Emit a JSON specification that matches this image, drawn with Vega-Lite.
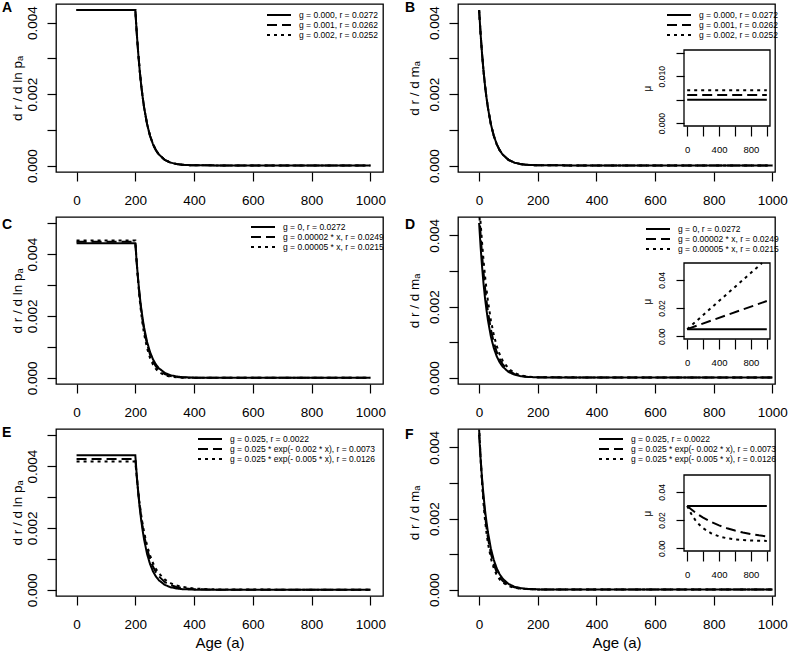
{
 "$schema": "https://vega.github.io/schema/vega-lite/v6.json",
 "autosize": {"type": "pad"},
 "padding": {"left": 1, "top": 0, "right": 0, "bottom": 0},
 "background": "white",
 "columns": 2,
 "spacing": {"row": 45, "column": 75},
 "bounds": "flush",
 "resolve": {"scale": {"strokeDash": "independent", "x": "independent", "y": "independent"}, "legend": {"strokeDash": "independent"}},
 "config": {
  "font": "Liberation Sans",
  "view": {"stroke": "black", "strokeWidth": 1.3},
  "axis": {"grid": false, "domain": false, "tickColor": "black", "tickWidth": 1.2, "labelColor": "black", "titleColor": "black", "labelFont": "Liberation Sans", "titleFont": "Liberation Sans", "titleFontWeight": "normal", "labelOverlap": false, "labelFlush": false},
  "legend": {"labelFont": "Liberation Sans", "labelFontSize": 8.5, "labelColor": "black", "padding": 0, "rowPadding": 0, "symbolType": "M-3,0L3,0", "symbolSize": 64, "symbolStrokeWidth": 2, "symbolStrokeColor": "black", "labelOffset": 15, "orient": "none", "labelLimit": 400},
  "title": {"font": "Liberation Sans", "fontSize": 14, "fontWeight": "bold", "color": "black", "anchor": "start", "frame": "group", "baseline": "alphabetic"}
 },
 "datasets": {
  "labAB": [{"key": "s1", "label": "g = 0.000, r = 0.0272"}, {"key": "s2", "label": "g = 0.001, r = 0.0262"}, {"key": "s3", "label": "g = 0.002, r = 0.0252"}],
  "labCD": [{"key": "s1", "label": "g = 0, r = 0.0272"}, {"key": "s2", "label": "g = 0.00002 * x, r = 0.0249"}, {"key": "s3", "label": "g = 0.00005 * x, r = 0.0215"}],
  "labEF": [{"key": "s1", "label": "g = 0.025, r = 0.0022"}, {"key": "s2", "label": "g = 0.025 * exp(- 0.002 * x), r = 0.0073"}, {"key": "s3", "label": "g = 0.025 * exp(- 0.005 * x), r = 0.0126"}],
  "A": [
   {"a": 0, "s1": 0.00435, "s2": 0.00435, "s3": 0.00435},
   {"a": 200, "s1": 0.00435, "s2": 0.00435, "s3": 0.00435},
   {"a": 205, "s1": 0.00369, "s2": 0.00369, "s3": 0.00369},
   {"a": 210, "s1": 0.00313, "s2": 0.00313, "s3": 0.00313},
   {"a": 215, "s1": 0.00265, "s2": 0.00265, "s3": 0.00265},
   {"a": 220, "s1": 0.00225, "s2": 0.00225, "s3": 0.00225},
   {"a": 225, "s1": 0.00191, "s2": 0.00191, "s3": 0.00191},
   {"a": 230, "s1": 0.00162, "s2": 0.00162, "s3": 0.00162},
   {"a": 240, "s1": 0.00116, "s2": 0.00116, "s3": 0.00116},
   {"a": 250, "s1": 0.000835, "s2": 0.000835, "s3": 0.000835},
   {"a": 260, "s1": 0.0006, "s2": 0.0006, "s3": 0.0006},
   {"a": 270, "s1": 0.000431, "s2": 0.000431, "s3": 0.000431},
   {"a": 280, "s1": 0.000311, "s2": 0.000311, "s3": 0.000311},
   {"a": 300, "s1": 0.000161, "s2": 0.000161, "s3": 0.000161},
   {"a": 320, "s1": 0.000083, "s2": 0.000083, "s3": 0.000083},
   {"a": 340, "s1": 0.000043, "s2": 0.000043, "s3": 0.000043},
   {"a": 360, "s1": 0.000022, "s2": 0.000022, "s3": 0.000022},
   {"a": 400, "s1": 0.000006, "s2": 0.000006, "s3": 0.000006},
   {"a": 1000, "s1": 0, "s2": 0, "s3": 0}
  ],
  "B": [
   {"a": 0, "s1": 0.00435, "s2": 0.00435, "s3": 0.00435},
   {"a": 5, "s1": 0.00369, "s2": 0.00369, "s3": 0.00369},
   {"a": 10, "s1": 0.00313, "s2": 0.00313, "s3": 0.00313},
   {"a": 15, "s1": 0.00265, "s2": 0.00265, "s3": 0.00265},
   {"a": 20, "s1": 0.00225, "s2": 0.00225, "s3": 0.00225},
   {"a": 25, "s1": 0.00191, "s2": 0.00191, "s3": 0.00191},
   {"a": 30, "s1": 0.00162, "s2": 0.00162, "s3": 0.00162},
   {"a": 40, "s1": 0.00116, "s2": 0.00116, "s3": 0.00116},
   {"a": 50, "s1": 0.000835, "s2": 0.000835, "s3": 0.000835},
   {"a": 60, "s1": 0.0006, "s2": 0.0006, "s3": 0.0006},
   {"a": 70, "s1": 0.000431, "s2": 0.000431, "s3": 0.000431},
   {"a": 80, "s1": 0.000311, "s2": 0.000311, "s3": 0.000311},
   {"a": 100, "s1": 0.000161, "s2": 0.000161, "s3": 0.000161},
   {"a": 120, "s1": 0.000083, "s2": 0.000083, "s3": 0.000083},
   {"a": 140, "s1": 0.000043, "s2": 0.000043, "s3": 0.000043},
   {"a": 160, "s1": 0.000022, "s2": 0.000022, "s3": 0.000022},
   {"a": 200, "s1": 0.000006, "s2": 0.000006, "s3": 0.000006},
   {"a": 1000, "s1": 0, "s2": 0, "s3": 0}
  ],
  "C": [
   {"a": 0, "s1": 0.00435, "s2": 0.0044, "s3": 0.00444},
   {"a": 200, "s1": 0.00435, "s2": 0.0044, "s3": 0.00444},
   {"a": 205, "s1": 0.00369, "s2": 0.003698, "s3": 0.003681},
   {"a": 210, "s1": 0.00313, "s2": 0.003107, "s3": 0.003047},
   {"a": 215, "s1": 0.00265, "s2": 0.002609, "s3": 0.002519},
   {"a": 220, "s1": 0.00225, "s2": 0.002189, "s3": 0.002081},
   {"a": 225, "s1": 0.00191, "s2": 0.001837, "s3": 0.001716},
   {"a": 230, "s1": 0.00162, "s2": 0.00154, "s3": 0.001414},
   {"a": 240, "s1": 0.00116, "s2": 0.00108, "s3": 0.000956},
   {"a": 250, "s1": 0.000835, "s2": 0.000757, "s3": 0.000643},
   {"a": 260, "s1": 0.0006, "s2": 0.000529, "s3": 0.00043},
   {"a": 270, "s1": 0.000431, "s2": 0.000369, "s3": 0.000287},
   {"a": 280, "s1": 0.000311, "s2": 0.000257, "s3": 0.00019},
   {"a": 300, "s1": 0.000161, "s2": 0.000124, "s3": 0.0000822},
   {"a": 320, "s1": 0.000083, "s2": 0.0000592, "s3": 0.0000349},
   {"a": 340, "s1": 0.000043, "s2": 0.0000281, "s3": 0.0000145},
   {"a": 360, "s1": 0.000022, "s2": 0.0000132, "s3": 0.0000059},
   {"a": 400, "s1": 0.000006, "s2": 0.0000029, "s3": 0.000001},
   {"a": 1000, "s1": 0, "s2": 0, "s3": 0}
  ],
  "D": [
   {"a": 0, "s1": 0.00435, "s2": 0.0047, "s3": 0.005},
   {"a": 5, "s1": 0.00369, "s2": 0.004032, "s3": 0.004362},
   {"a": 10, "s1": 0.00313, "s2": 0.003458, "s3": 0.0038},
   {"a": 15, "s1": 0.00265, "s2": 0.002963, "s3": 0.003306},
   {"a": 20, "s1": 0.00225, "s2": 0.002538, "s3": 0.002872},
   {"a": 25, "s1": 0.00191, "s2": 0.002173, "s3": 0.002493},
   {"a": 30, "s1": 0.00162, "s2": 0.00186, "s3": 0.002161},
   {"a": 40, "s1": 0.00116, "s2": 0.00136, "s3": 0.001617},
   {"a": 50, "s1": 0.000835, "s2": 0.000992, "s3": 0.001204},
   {"a": 60, "s1": 0.0006, "s2": 0.000722, "s3": 0.000892},
   {"a": 70, "s1": 0.000431, "s2": 0.000525, "s3": 0.000657},
   {"a": 80, "s1": 0.000311, "s2": 0.000381, "s3": 0.000482},
   {"a": 100, "s1": 0.000161, "s2": 0.000199, "s3": 0.000255},
   {"a": 120, "s1": 0.000083, "s2": 0.000103, "s3": 0.000132},
   {"a": 140, "s1": 0.000043, "s2": 0.000053, "s3": 0.0000672},
   {"a": 160, "s1": 0.000022, "s2": 0.000027, "s3": 0.0000334},
   {"a": 200, "s1": 0.000006, "s2": 0.0000069, "s3": 0.0000078},
   {"a": 1000, "s1": 0, "s2": 0, "s3": 0}
  ],
  "E": [
   {"a": 0, "s1": 0.00435, "s2": 0.00423, "s3": 0.00415},
   {"a": 200, "s1": 0.00435, "s2": 0.00423, "s3": 0.00415},
   {"a": 205, "s1": 0.00369, "s2": 0.003646, "s3": 0.003619},
   {"a": 210, "s1": 0.00313, "s2": 0.003145, "s3": 0.00316},
   {"a": 215, "s1": 0.00265, "s2": 0.002716, "s3": 0.002762},
   {"a": 220, "s1": 0.00225, "s2": 0.002347, "s3": 0.002417},
   {"a": 225, "s1": 0.00191, "s2": 0.00203, "s3": 0.002118},
   {"a": 230, "s1": 0.00162, "s2": 0.001757, "s3": 0.001858},
   {"a": 240, "s1": 0.00116, "s2": 0.00132, "s3": 0.001435},
   {"a": 250, "s1": 0.000835, "s2": 0.000995, "s3": 0.001113},
   {"a": 260, "s1": 0.0006, "s2": 0.000753, "s3": 0.000867},
   {"a": 270, "s1": 0.000431, "s2": 0.000571, "s3": 0.00068},
   {"a": 280, "s1": 0.000311, "s2": 0.000435, "s3": 0.000535},
   {"a": 300, "s1": 0.000161, "s2": 0.000255, "s3": 0.000336},
   {"a": 320, "s1": 0.000083, "s2": 0.000152, "s3": 0.000215},
   {"a": 340, "s1": 0.000043, "s2": 0.0000915, "s3": 0.00014},
   {"a": 360, "s1": 0.000022, "s2": 0.0000558, "s3": 0.0000933},
   {"a": 400, "s1": 0.000006, "s2": 0.0000217, "s3": 0.0000436},
   {"a": 450, "s1": 0.000001, "s2": 0.0000072, "s3": 0.0000187},
   {"a": 500, "s1": 0, "s2": 0.000002, "s3": 0.0000091},
   {"a": 1000, "s1": 0, "s2": 0, "s3": 0}
  ],
  "F": [
   {"a": 0, "s1": 0.00435, "s2": 0.0045, "s3": 0.0046},
   {"a": 5, "s1": 0.00369, "s2": 0.003719, "s3": 0.003703},
   {"a": 10, "s1": 0.00313, "s2": 0.003078, "s3": 0.002991},
   {"a": 15, "s1": 0.00265, "s2": 0.002551, "s3": 0.002423},
   {"a": 20, "s1": 0.00225, "s2": 0.002116, "s3": 0.001969},
   {"a": 25, "s1": 0.00191, "s2": 0.001758, "s3": 0.001604},
   {"a": 30, "s1": 0.00162, "s2": 0.001462, "s3": 0.001311},
   {"a": 40, "s1": 0.00116, "s2": 0.001015, "s3": 0.000883},
   {"a": 50, "s1": 0.000835, "s2": 0.000708, "s3": 0.000601},
   {"a": 60, "s1": 0.0006, "s2": 0.000496, "s3": 0.000413},
   {"a": 70, "s1": 0.000431, "s2": 0.000349, "s3": 0.000287},
   {"a": 80, "s1": 0.000311, "s2": 0.000247, "s3": 0.000201},
   {"a": 100, "s1": 0.000161, "s2": 0.000125, "s3": 0.000101},
   {"a": 120, "s1": 0.000083, "s2": 0.0000644, "s3": 0.0000524},
   {"a": 140, "s1": 0.000043, "s2": 0.0000338, "s3": 0.0000279},
   {"a": 160, "s1": 0.000022, "s2": 0.0000179, "s3": 0.0000153},
   {"a": 200, "s1": 0.000006, "s2": 0.0000053, "s3": 0.0000049},
   {"a": 1000, "s1": 0, "s2": 0, "s3": 0}
  ],
  "Bi": [
   {"a": 0, "s1": 0.005, "s2": 0.006, "s3": 0.007},
   {"a": 1000, "s1": 0.005, "s2": 0.006, "s3": 0.007}
  ],
  "Di": [
   {"a": 0, "s1": 0.005, "s2": 0.005, "s3": 0.005},
   {"a": 940, "s3": 0.052},
   {"a": 1000, "s1": 0.005, "s2": 0.025}
  ],
  "Fi": [
   {"a": 0, "s1": 0.03, "s2": 0.03, "s3": 0.03},
   {"a": 50, "s2": 0.02762, "s3": 0.02447},
   {"a": 100, "s2": 0.02547, "s3": 0.02016},
   {"a": 150, "s2": 0.02352, "s3": 0.01681},
   {"a": 200, "s2": 0.02176, "s3": 0.0142},
   {"a": 300, "s2": 0.01872, "s3": 0.01058},
   {"a": 400, "s2": 0.01623, "s3": 0.00838},
   {"a": 500, "s2": 0.0142, "s3": 0.00705},
   {"a": 600, "s2": 0.01252, "s3": 0.00624},
   {"a": 700, "s2": 0.01115, "s3": 0.00575},
   {"a": 800, "s2": 0.01004, "s3": 0.00546},
   {"a": 900, "s2": 0.00913, "s3": 0.00528},
   {"a": 1000, "s1": 0.03, "s2": 0.00838, "s3": 0.00517}
  ]
 },
 "concat": [
  {
   "width": 327, "height": 168,
   "title": {"text": "A", "dx": -54, "offset": -11.3},
   "layer": [{
    "data": {"name": "A"},
    "transform": [{"fold": ["s1", "s2", "s3"], "as": ["key", "v"]}, {"filter": "isValid(datum.v)"}, {"lookup": "key", "from": {"data": {"name": "labAB"}, "key": "key", "fields": ["label"]}}],
    "mark": {"type": "line", "color": "black", "strokeWidth": 2, "clip": true},
    "encoding": {
     "x": {"field": "a", "type": "quantitative", "scale": {"domain": [-70, 1043], "nice": false, "zero": false}, "axis": {"values": [0, 200, 400, 600, 800, 1000], "format": "d", "tickSize": 9, "labelPadding": 12, "labelFontSize": 13.5, "title": null}},
     "y": {"field": "v", "type": "quantitative", "scale": {"domain": [-0.00018, 0.00452], "nice": false, "zero": false}, "axis": {"values": [0, 0.001, 0.002, 0.003, 0.004], "tickSize": 9, "labelAngle": 270, "labelAlign": "center", "labelBaseline": "alphabetic", "labelPadding": 11, "labelFontSize": 13.5, "labelExpr": "round(datum.value * 1000) % 2 == 0 ? format(datum.value, '.3f') : ''", "title": "d r / d ln pₐ", "titleFontSize": 13.5, "titlePadding": 1}},
     "strokeDash": {"field": "label", "type": "nominal", "scale": {"domain": ["g = 0.000, r = 0.0272", "g = 0.001, r = 0.0262", "g = 0.002, r = 0.0252"], "range": [[1, 0], [10, 5], [3, 4]]}, "legend": {"title": null, "orient": "none", "legendX": 218, "legendY": 6}}
    }
   }]
  },
  {
   "width": 317, "height": 168,
   "title": {"text": "B", "dx": -53, "offset": -11.3},
   "resolve": {"scale": {"x": "independent", "y": "independent"}},
   "layer": [
    {
     "data": {"name": "B"},
     "transform": [{"fold": ["s1", "s2", "s3"], "as": ["key", "v"]}, {"filter": "isValid(datum.v)"}, {"lookup": "key", "from": {"data": {"name": "labAB"}, "key": "key", "fields": ["label"]}}],
     "mark": {"type": "line", "color": "black", "strokeWidth": 2, "clip": true},
     "encoding": {
      "x": {"field": "a", "type": "quantitative", "scale": {"domain": [-72, 1009], "nice": false, "zero": false}, "axis": {"orient": "bottom", "values": [0, 200, 400, 600, 800, 1000], "format": "d", "tickSize": 9, "labelPadding": 12, "labelFontSize": 13.5, "title": null}},
      "y": {"field": "v", "type": "quantitative", "scale": {"domain": [-0.00018, 0.00452], "nice": false, "zero": false}, "axis": {"orient": "left", "values": [0, 0.001, 0.002, 0.003, 0.004], "tickSize": 9, "labelAngle": 270, "labelAlign": "center", "labelBaseline": "alphabetic", "labelPadding": 11, "labelFontSize": 13.5, "labelExpr": "round(datum.value * 1000) % 2 == 0 ? format(datum.value, '.3f') : ''", "title": "d r / d mₐ", "titleFontSize": 13.5, "titlePadding": 6}},
      "strokeDash": {"field": "label", "type": "nominal", "scale": {"domain": ["g = 0.000, r = 0.0272", "g = 0.001, r = 0.0262", "g = 0.002, r = 0.0252"], "range": [[1, 0], [10, 5], [3, 4]]}, "legend": {"title": null, "orient": "none", "legendX": 216, "legendY": 6}}
     }
    },
    {
     "layer": [
      {
       "data": {"values": [{}]},
       "mark": {"type": "rect", "fill": "transparent", "stroke": "black", "strokeWidth": 1.3},
       "encoding": {"x": {"datum": -40, "type": "quantitative"}, "x2": {"datum": 1040}, "y": {"datum": -0.0006, "type": "quantitative"}, "y2": {"datum": 0.0156}}
      },
      {
       "data": {"name": "Bi"},
       "transform": [{"fold": ["s1", "s2", "s3"], "as": ["key", "v"]}, {"filter": "isValid(datum.v)"}, {"lookup": "key", "from": {"data": {"name": "labAB"}, "key": "key", "fields": ["label"]}}],
       "mark": {"type": "line", "color": "black", "strokeWidth": 2},
       "encoding": {
        "x": {"field": "a", "type": "quantitative", "scale": {"domain": [-40, 1040], "range": [226, 312], "nice": false, "zero": false}, "axis": {"orient": "bottom", "offset": -46, "values": [0, 200, 400, 600, 800, 1000], "tickSize": 10, "labelPadding": 8, "labelFontSize": 9.5, "labelExpr": "datum.value % 400 == 0 ? datum.label : ''", "title": null}},
        "y": {"field": "v", "type": "quantitative", "scale": {"domain": [-0.0006, 0.0156], "range": [122, 46], "nice": false, "zero": false}, "axis": {"orient": "left", "offset": -226, "values": [0, 0.005, 0.01, 0.015], "tickSize": 8, "labelAngle": 270, "labelAlign": "center", "labelBaseline": "alphabetic", "labelPadding": 12, "labelFontSize": 8.5, "labelExpr": "datum.value == 0 || datum.value == 0.01 ? format(datum.value, '.3f') : ''", "title": "μ", "titleFontSize": 10, "titlePadding": 5}},
        "strokeDash": {"field": "label", "type": "nominal", "scale": {"domain": ["g = 0.000, r = 0.0272", "g = 0.001, r = 0.0262", "g = 0.002, r = 0.0252"], "range": [[1, 0], [10, 5], [3, 4]]}, "legend": null}
       }
      }
     ]
    }
   ]
  },
  {
   "width": 327, "height": 167,
   "title": {"text": "C", "dx": -54, "offset": -14.8},
   "layer": [{
    "data": {"name": "C"},
    "transform": [{"fold": ["s1", "s2", "s3"], "as": ["key", "v"]}, {"filter": "isValid(datum.v)"}, {"lookup": "key", "from": {"data": {"name": "labCD"}, "key": "key", "fields": ["label"]}}],
    "mark": {"type": "line", "color": "black", "strokeWidth": 2, "clip": true},
    "encoding": {
     "x": {"field": "a", "type": "quantitative", "scale": {"domain": [-70, 1043], "nice": false, "zero": false}, "axis": {"values": [0, 200, 400, 600, 800, 1000], "format": "d", "tickSize": 9, "labelPadding": 12, "labelFontSize": 13.5, "title": null}},
     "y": {"field": "v", "type": "quantitative", "scale": {"domain": [-0.0002, 0.0052], "nice": false, "zero": false}, "axis": {"values": [0, 0.001, 0.002, 0.003, 0.004, 0.005], "tickSize": 9, "labelAngle": 270, "labelAlign": "center", "labelBaseline": "alphabetic", "labelPadding": 11, "labelFontSize": 13.5, "labelExpr": "round(datum.value * 1000) % 2 == 0 ? format(datum.value, '.3f') : ''", "title": "d r / d ln pₐ", "titleFontSize": 13.5, "titlePadding": 1}},
     "strokeDash": {"field": "label", "type": "nominal", "scale": {"domain": ["g = 0, r = 0.0272", "g = 0.00002 * x, r = 0.0249", "g = 0.00005 * x, r = 0.0215"], "range": [[1, 0], [10, 5], [3, 4]]}, "legend": {"title": null, "orient": "none", "legendX": 202, "legendY": 5}}
    }
   }]
  },
  {
   "width": 317, "height": 167,
   "title": {"text": "D", "dx": -53, "offset": -14.8},
   "resolve": {"scale": {"x": "independent", "y": "independent"}},
   "layer": [
    {
     "data": {"name": "D"},
     "transform": [{"fold": ["s1", "s2", "s3"], "as": ["key", "v"]}, {"filter": "isValid(datum.v)"}, {"lookup": "key", "from": {"data": {"name": "labCD"}, "key": "key", "fields": ["label"]}}],
     "mark": {"type": "line", "color": "black", "strokeWidth": 2, "clip": true},
     "encoding": {
      "x": {"field": "a", "type": "quantitative", "scale": {"domain": [-72, 1009], "nice": false, "zero": false}, "axis": {"orient": "bottom", "values": [0, 200, 400, 600, 800, 1000], "format": "d", "tickSize": 9, "labelPadding": 12, "labelFontSize": 13.5, "title": null}},
      "y": {"field": "v", "type": "quantitative", "scale": {"domain": [-0.00018, 0.00452], "nice": false, "zero": false}, "axis": {"orient": "left", "values": [0, 0.001, 0.002, 0.003, 0.004], "tickSize": 9, "labelAngle": 270, "labelAlign": "center", "labelBaseline": "alphabetic", "labelPadding": 11, "labelFontSize": 13.5, "labelExpr": "round(datum.value * 1000) % 2 == 0 ? format(datum.value, '.3f') : ''", "title": "d r / d mₐ", "titleFontSize": 13.5, "titlePadding": 6}},
      "strokeDash": {"field": "label", "type": "nominal", "scale": {"domain": ["g = 0, r = 0.0272", "g = 0.00002 * x, r = 0.0249", "g = 0.00005 * x, r = 0.0215"], "range": [[1, 0], [10, 5], [3, 4]]}, "legend": {"title": null, "orient": "none", "legendX": 195, "legendY": 7}}
     }
    },
    {
     "layer": [
      {
       "data": {"values": [{}]},
       "mark": {"type": "rect", "fill": "transparent", "stroke": "black", "strokeWidth": 1.3},
       "encoding": {"x": {"datum": -40, "type": "quantitative"}, "x2": {"datum": 1040}, "y": {"datum": -0.002, "type": "quantitative"}, "y2": {"datum": 0.052}}
      },
      {
       "data": {"name": "Di"},
       "transform": [{"fold": ["s1", "s2", "s3"], "as": ["key", "v"]}, {"filter": "isValid(datum.v)"}, {"lookup": "key", "from": {"data": {"name": "labCD"}, "key": "key", "fields": ["label"]}}],
       "mark": {"type": "line", "color": "black", "strokeWidth": 2},
       "encoding": {
        "x": {"field": "a", "type": "quantitative", "scale": {"domain": [-40, 1040], "range": [226, 312], "nice": false, "zero": false}, "axis": {"orient": "bottom", "offset": -45, "values": [0, 200, 400, 600, 800, 1000], "tickSize": 10, "labelPadding": 8, "labelFontSize": 9.5, "labelExpr": "datum.value % 400 == 0 ? datum.label : ''", "title": null}},
        "y": {"field": "v", "type": "quantitative", "scale": {"domain": [-0.002, 0.052], "range": [122, 46], "nice": false, "zero": false}, "axis": {"orient": "left", "offset": -226, "values": [0, 0.01, 0.02, 0.03, 0.04, 0.05], "tickSize": 8, "labelAngle": 270, "labelAlign": "center", "labelBaseline": "alphabetic", "labelPadding": 12, "labelFontSize": 8.5, "labelExpr": "datum.value == 0 || datum.value == 0.02 || datum.value == 0.04 ? format(datum.value, '.2f') : ''", "title": "μ", "titleFontSize": 10, "titlePadding": 5}},
        "strokeDash": {"field": "label", "type": "nominal", "scale": {"domain": ["g = 0, r = 0.0272", "g = 0.00002 * x, r = 0.0249", "g = 0.00005 * x, r = 0.0215"], "range": [[1, 0], [10, 5], [3, 4]]}, "legend": null}
       }
      }
     ]
    }
   ]
  },
  {
   "width": 327, "height": 167,
   "title": {"text": "E", "dx": -54, "offset": -11},
   "layer": [{
    "data": {"name": "E"},
    "transform": [{"fold": ["s1", "s2", "s3"], "as": ["key", "v"]}, {"filter": "isValid(datum.v)"}, {"lookup": "key", "from": {"data": {"name": "labEF"}, "key": "key", "fields": ["label"]}}],
    "mark": {"type": "line", "color": "black", "strokeWidth": 2, "clip": true},
    "encoding": {
     "x": {"field": "a", "type": "quantitative", "scale": {"domain": [-70, 1043], "nice": false, "zero": false}, "axis": {"values": [0, 200, 400, 600, 800, 1000], "format": "d", "tickSize": 9, "labelPadding": 12, "labelFontSize": 13.5, "title": "Age (a)", "titleFontSize": 15, "titlePadding": 5}},
     "y": {"field": "v", "type": "quantitative", "scale": {"domain": [-0.0002, 0.0052], "nice": false, "zero": false}, "axis": {"values": [0, 0.001, 0.002, 0.003, 0.004, 0.005], "tickSize": 9, "labelAngle": 270, "labelAlign": "center", "labelBaseline": "alphabetic", "labelPadding": 11, "labelFontSize": 13.5, "labelExpr": "round(datum.value * 1000) % 2 == 0 ? format(datum.value, '.3f') : ''", "title": "d r / d ln pₐ", "titleFontSize": 13.5, "titlePadding": 1}},
     "strokeDash": {"field": "label", "type": "nominal", "scale": {"domain": ["g = 0.025, r = 0.0022", "g = 0.025 * exp(- 0.002 * x), r = 0.0073", "g = 0.025 * exp(- 0.005 * x), r = 0.0126"], "range": [[1, 0], [10, 5], [3, 4]]}, "legend": {"title": null, "orient": "none", "legendX": 149, "legendY": 5}}
    }
   }]
  },
  {
   "width": 317, "height": 167,
   "title": {"text": "F", "dx": -53, "offset": -12.5},
   "resolve": {"scale": {"x": "independent", "y": "independent"}},
   "layer": [
    {
     "data": {"name": "F"},
     "transform": [{"fold": ["s1", "s2", "s3"], "as": ["key", "v"]}, {"filter": "isValid(datum.v)"}, {"lookup": "key", "from": {"data": {"name": "labEF"}, "key": "key", "fields": ["label"]}}],
     "mark": {"type": "line", "color": "black", "strokeWidth": 2, "clip": true},
     "encoding": {
      "x": {"field": "a", "type": "quantitative", "scale": {"domain": [-72, 1009], "nice": false, "zero": false}, "axis": {"orient": "bottom", "values": [0, 200, 400, 600, 800, 1000], "format": "d", "tickSize": 9, "labelPadding": 12, "labelFontSize": 13.5, "title": "Age (a)", "titleFontSize": 15, "titlePadding": 5}},
      "y": {"field": "v", "type": "quantitative", "scale": {"domain": [-0.00018, 0.00452], "nice": false, "zero": false}, "axis": {"orient": "left", "values": [0, 0.001, 0.002, 0.003, 0.004], "tickSize": 9, "labelAngle": 270, "labelAlign": "center", "labelBaseline": "alphabetic", "labelPadding": 11, "labelFontSize": 13.5, "labelExpr": "round(datum.value * 1000) % 2 == 0 ? format(datum.value, '.3f') : ''", "title": "d r / d mₐ", "titleFontSize": 13.5, "titlePadding": 6}},
      "strokeDash": {"field": "label", "type": "nominal", "scale": {"domain": ["g = 0.025, r = 0.0022", "g = 0.025 * exp(- 0.002 * x), r = 0.0073", "g = 0.025 * exp(- 0.005 * x), r = 0.0126"], "range": [[1, 0], [10, 5], [3, 4]]}, "legend": {"title": null, "orient": "none", "legendX": 148, "legendY": 5}}
     }
    },
    {
     "layer": [
      {
       "data": {"values": [{}]},
       "mark": {"type": "rect", "fill": "transparent", "stroke": "black", "strokeWidth": 1.3},
       "encoding": {"x": {"datum": -40, "type": "quantitative"}, "x2": {"datum": 1040}, "y": {"datum": -0.002, "type": "quantitative"}, "y2": {"datum": 0.052}}
      },
      {
       "data": {"name": "Fi"},
       "transform": [{"fold": ["s1", "s2", "s3"], "as": ["key", "v"]}, {"filter": "isValid(datum.v)"}, {"lookup": "key", "from": {"data": {"name": "labEF"}, "key": "key", "fields": ["label"]}}],
       "mark": {"type": "line", "color": "black", "strokeWidth": 2},
       "encoding": {
        "x": {"field": "a", "type": "quantitative", "scale": {"domain": [-40, 1040], "range": [226, 312], "nice": false, "zero": false}, "axis": {"orient": "bottom", "offset": -45, "values": [0, 200, 400, 600, 800, 1000], "tickSize": 10, "labelPadding": 8, "labelFontSize": 9.5, "labelExpr": "datum.value % 400 == 0 ? datum.label : ''", "title": null}},
        "y": {"field": "v", "type": "quantitative", "scale": {"domain": [-0.002, 0.052], "range": [122, 46], "nice": false, "zero": false}, "axis": {"orient": "left", "offset": -226, "values": [0, 0.01, 0.02, 0.03, 0.04, 0.05], "tickSize": 8, "labelAngle": 270, "labelAlign": "center", "labelBaseline": "alphabetic", "labelPadding": 12, "labelFontSize": 8.5, "labelExpr": "datum.value == 0 || datum.value == 0.02 || datum.value == 0.04 ? format(datum.value, '.2f') : ''", "title": "μ", "titleFontSize": 10, "titlePadding": 5}},
        "strokeDash": {"field": "label", "type": "nominal", "scale": {"domain": ["g = 0.025, r = 0.0022", "g = 0.025 * exp(- 0.002 * x), r = 0.0073", "g = 0.025 * exp(- 0.005 * x), r = 0.0126"], "range": [[1, 0], [10, 5], [3, 4]]}, "legend": null}
       }
      }
     ]
    }
   ]
  }
 ]
}
